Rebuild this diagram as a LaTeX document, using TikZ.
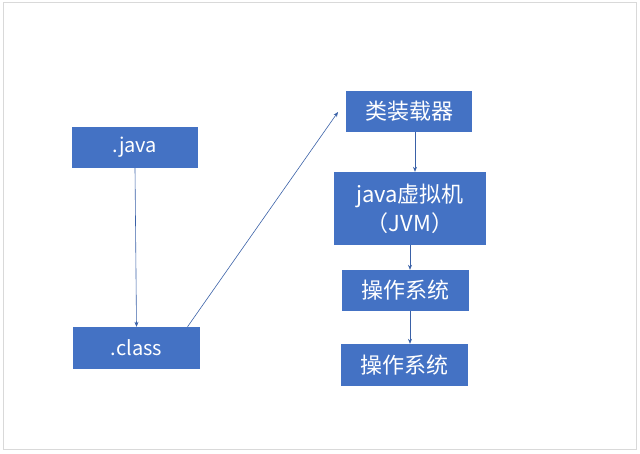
\documentclass[tikz,border=0pt]{standalone}
\usepackage{fontspec}
\setmainfont{Noto Sans CJK SC}
\usetikzlibrary{arrows.meta}
\definecolor{boxblue}{HTML}{4472C4}
\definecolor{framegray}{HTML}{D9D9D9}
\tikzset{
  blockbox/.style={fill=boxblue, text=white, inner sep=0pt, font=\fontsize{20}{24}\selectfont, align=center},
  cjkbox/.style={blockbox, font=\fontsize{22}{29}\selectfont},
  conn/.style={draw=boxblue!85!black, line width=0.6pt, -{Stealth[length=5pt,width=4pt]}}
}
\begin{document}
\begin{tikzpicture}[x=1pt,y=-1pt]
\useasboundingbox (0,0) rectangle (640,453);
\draw[framegray, line width=1pt] (3,2.5) rectangle (636.5,449.5);
\node[blockbox, minimum width=126pt, minimum height=41pt] (java) at (135,147.5) {.java};
\node[blockbox, minimum width=127pt, minimum height=42pt] (class) at (136.5,348) {.class};
\node[cjkbox, minimum width=126pt, minimum height=41pt] (loader) at (409,111.5) {类装载器};
\node[cjkbox, minimum width=152pt, minimum height=73pt] (jvm) at (410,208.5) {java虚拟机\\（JVM）};
\node[cjkbox, minimum width=127pt, minimum height=41pt] (os1) at (405.5,290.5) {操作系统};
\node[cjkbox, minimum width=127pt, minimum height=42pt] (os2) at (404.5,365) {操作系统};
\coordinate (lt) at (338,112);
\draw[conn] (java.south) -- (class.north);
\draw[conn] ([xshift=51pt]class.north) -- (lt);
\draw[conn] ([xshift=6pt]loader.south) -- ([xshift=5pt]jvm.north);
\draw[conn] (jvm.south) -- (jvm.south |- os1.north);
\draw[conn] ([xshift=4.5pt]os1.south) -- ([xshift=5.5pt]os2.north);
\end{tikzpicture}
\end{document}
